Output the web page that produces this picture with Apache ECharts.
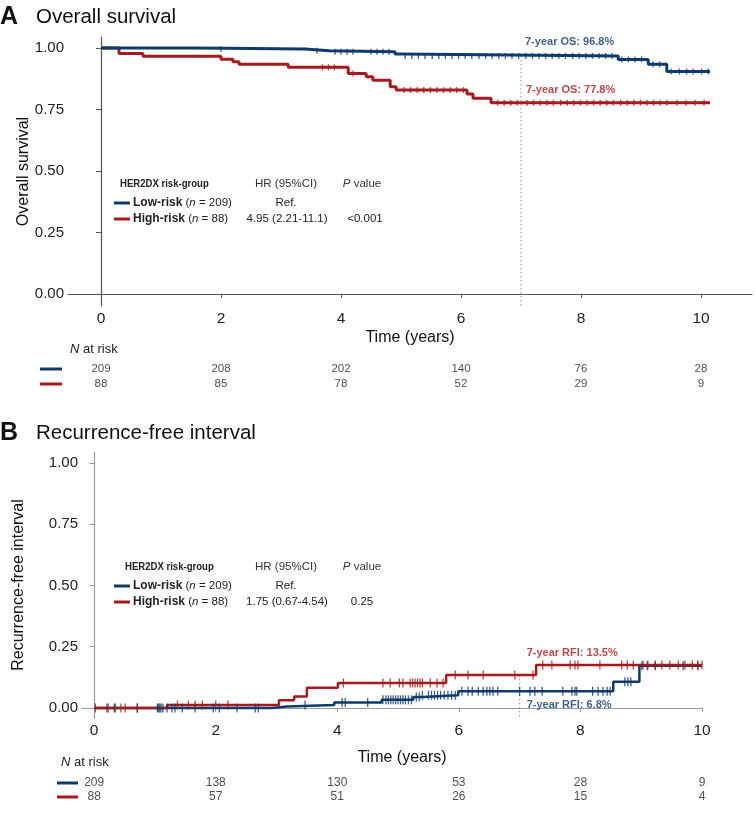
<!DOCTYPE html>
<html><head><meta charset="utf-8">
<script src="https://cdn.jsdelivr.net/npm/echarts@6/dist/echarts.min.js"></script>
<style>html,body{margin:0;padding:0;background:#fff}#c{width:755px;height:817px}</style>
</head><body><div id="c"></div>
<script>
// ---------- data ----------
const timeTicks = [0, 2, 4, 6, 8, 10];
const survTicks = [0, 0.25, 0.5, 0.75, 1];

// Overall survival (Kaplan-Meier steps)
const osLowT  = [0, 1.6, 3.4, 3.8, 4.9, 5.0, 8.62, 9.12, 9.43, 10.15];
const osLowS  = [1.0, 0.996, 0.989, 0.985, 0.976, 0.968, 0.954, 0.934, 0.905, 0.905];
const osHighT = [0, 0.3, 0.7, 2.0, 2.2, 2.3, 3.12, 4.12, 4.42, 4.53, 4.82, 4.92, 6.1, 6.2, 6.5, 10.15];
const osHighS = [1.0, 0.978, 0.967, 0.955, 0.944, 0.934, 0.922, 0.897, 0.883, 0.869, 0.843, 0.829, 0.813, 0.796, 0.778, 0.778];
const osLowCens = [2.0, 3.6, 3.9, 4.0, 4.1, 4.2, 4.5, 4.6, 4.7, 4.8, 5.07, 5.18, 5.29, 5.40, 5.52, 5.63, 5.74, 5.85, 5.96, 6.07, 6.18, 6.30, 6.41, 6.52, 6.63, 6.74, 6.85, 6.96, 7.08, 7.19, 7.30, 7.41, 7.52, 7.63, 7.74, 7.86, 7.97, 8.08, 8.19, 8.30, 8.41, 8.52, 8.68, 8.79, 8.90, 9.01, 9.20, 9.31, 9.50, 9.64, 9.76, 9.87, 10.01, 10.12];
const osHighCens = [3.69, 3.79, 3.89, 4.2, 5.05, 5.16, 5.27, 5.38, 5.49, 5.60, 5.71, 5.82, 5.93, 6.04, 6.61, 6.72, 6.83, 6.94, 7.10, 7.21, 7.32, 7.43, 7.54, 7.66, 7.77, 7.88, 7.99, 8.10, 8.21, 8.32, 8.43, 8.54, 8.66, 8.77, 8.88, 8.99, 9.10, 9.21, 9.32, 9.43, 9.60, 9.75, 9.90, 10.05];
const osLandmark = 7, osLowAt7 = 0.968, osHighAt7 = 0.778;
const osRiskLow  = [209, 208, 202, 140, 76, 28];
const osRiskHigh = [88, 85, 78, 52, 29, 9];

// Recurrence-free interval (cumulative incidence steps)
const rfiHighT = [0, 1.2, 3.04, 3.29, 3.5, 4.01, 5.79, 7.27, 10.0];
const rfiHighV = [0, 0.012, 0.031, 0.047, 0.082, 0.102, 0.135, 0.175, 0.175];
const rfiLowT  = [0, 2.93, 3.17, 3.95, 4.73, 5.25, 5.4, 5.99, 8.54, 8.97, 10.0];
const rfiLowV  = [0, 0.006, 0.012, 0.022, 0.033, 0.045, 0.052, 0.068, 0.107, 0.172, 0.172];
const rfiHighCens = [0.02, 0.23, 0.35, 0.44, 0.51, 0.71, 1.37, 1.55, 1.66, 1.78, 2.0, 2.2, 4.1, 4.75, 4.87, 5.02, 5.08, 5.2, 5.24, 5.28, 5.32, 5.36, 5.4, 5.53, 5.64, 5.74, 5.94, 6.15, 6.4, 6.92, 7.22, 7.38, 7.53, 7.83, 7.91, 7.96, 8.32, 8.68, 8.77, 8.87, 9.03, 9.11, 9.23, 9.34, 9.47, 9.61, 9.72, 9.84, 9.93, 10.0];
const rfiLowCens = [0.21, 0.33, 0.71, 1.04, 1.06, 1.08, 1.1, 1.13, 1.2, 1.28, 1.33, 1.45, 1.66, 1.96, 2.06, 2.35, 2.65, 2.7, 3.47, 4.08, 4.13, 4.5, 4.75, 4.8, 4.84, 4.88, 4.92, 4.96, 5.0, 5.04, 5.08, 5.12, 5.17, 5.22, 5.3, 5.35, 5.4, 5.5, 5.55, 5.6, 5.65, 5.7, 5.76, 5.82, 5.88, 5.94, 6.05, 6.15, 6.22, 6.32, 6.4, 6.46, 6.51, 6.56, 6.64, 7.0, 7.17, 7.25, 7.37, 7.71, 7.86, 7.91, 7.94, 8.2, 8.29, 8.37, 8.44, 8.49, 8.73, 8.78, 8.83, 9.01, 9.1, 9.23, 9.69, 9.93];
const rfiLandmark = 7, rfiHighAt7 = 0.135, rfiLowAt7 = 0.068;
const rfiRiskLow  = [209, 138, 130, 53, 28, 9];
const rfiRiskHigh = [88, 57, 51, 26, 15, 4];

// ---------- styling ----------
const BLUE = '#0e3a6c', RED = '#a51b1d';
const FONT = 'Liberation Sans, Arial, Helvetica, sans-serif';

function stepAt(T, S, t) { let v = S[0]; for (let i = 0; i < T.length; i++) { if (T[i] <= t) v = S[i]; } return v; }
function pairs(T, S) { return T.map((t, i) => [t, S[i]]); }
function cens(T, S, C) { return C.map(t => [t, stepAt(T, S, t)]); }

function kmLine(xi, T, S, color, w) {
  return { type: 'line', xAxisIndex: xi, yAxisIndex: xi, step: 'end', showSymbol: false, data: pairs(T, S),
    lineStyle: { color: color, width: w }, itemStyle: { color: color }, z: 3, silent: true };
}
function censSeries(xi, T, S, C, color, h) {
  return { type: 'scatter', xAxisIndex: xi, yAxisIndex: xi, symbol: 'rect', symbolSize: [1.3, h], data: cens(T, S, C),
    itemStyle: { color: color }, z: 4, silent: true };
}
function riskSeries(xi, vals, row, fsize) {
  return { type: 'scatter', xAxisIndex: xi, yAxisIndex: xi, symbolSize: 0,
    data: timeTicks.map((t, i) => [t, row, vals[i]]),
    label: { show: true, position: 'inside', formatter: p => String(p.data[2]), fontSize: fsize, fontFamily: FONT, color: '#222' }, silent: true };
}
function noteSeries(xi, x, y, text, color, dist, dy) {
  return { type: 'scatter', xAxisIndex: xi, yAxisIndex: xi, symbolSize: 0, data: [[x, y]], z: 5, silent: true,
    label: { show: true, position: 'right', distance: dist, offset: [0, dy], formatter: text, color: color,
      fontWeight: 'bold', fontSize: 11, fontFamily: FONT } };
}
function dotted(xi, x, yTop, yBot) {
  return { type: 'line', xAxisIndex: xi, yAxisIndex: xi, showSymbol: false, data: [[x, yTop], [x, yBot]],
    lineStyle: { color: '#8a8a8a', width: 1, type: [1.5, 2.5] }, z: 2, silent: true };
}

function mainX(grid, min, max, axisColor, gap, pad) {
  return { gridIndex: grid, type: 'value', min: min, max: max,
    axisLine: { show: true, lineStyle: { color: axisColor, width: 1.2 } },
    axisTick: { show: true, customValues: timeTicks, length: 4, lineStyle: { color: axisColor } },
    axisLabel: { customValues: timeTicks, fontSize: 15.5, color: '#222', margin: 5, fontFamily: FONT },
    splitLine: { show: false },
    name: 'Time (years)', nameLocation: 'middle', nameGap: gap, nameMoveOverlap: false,
    nameTextStyle: { fontSize: 16, color: '#111', fontFamily: FONT, padding: pad } };
}
function mainY(grid, min, max, axisColor, name, gap) {
  return { gridIndex: grid, type: 'value', min: min, max: max,
    axisLine: { show: true, lineStyle: { color: axisColor, width: 1.2 } },
    axisTick: { show: true, customValues: survTicks, length: 5, lineStyle: { color: axisColor } },
    axisLabel: { customValues: survTicks, formatter: v => v.toFixed(2), fontSize: 15, color: '#222', margin: 4, fontFamily: FONT },
    splitLine: { show: false },
    name: name, nameLocation: 'middle', nameGap: gap, nameMoveOverlap: false,
    nameTextStyle: { fontSize: 16, color: '#111', fontFamily: FONT } };
}
function hiddenX(grid, min, max) { return { gridIndex: grid, type: 'value', min: min, max: max, show: false }; }
function hiddenY(grid) { return { gridIndex: grid, type: 'category', data: ['high', 'low'], show: false }; }

// ---------- legend-table graphics ----------
function txt(x, y, text, opts, extra) {
  return Object.assign({ type: 'text', x: x, y: y, silent: true,
    style: Object.assign({ text: text, fill: '#222', font: '11.5px ' + FONT, textVerticalAlign: 'middle', textAlign: 'left' }, opts || {}) }, extra || {});
}
function key(x1, x2, y, color) {
  return { type: 'line', silent: true, shape: { x1: x1, y1: y, x2: x2, y2: y }, style: { stroke: color, lineWidth: 3 } };
}
const rich = { b: { fontWeight: 'bold', fontSize: 12, fontFamily: FONT }, i: { fontStyle: 'italic', fontSize: 11.5, fontFamily: FONT }, r: { fontSize: 11.5, fontFamily: FONT } };
function riskInset(hx, y0, hr, pv, pvx) {
  return [
    txt(hx, y0, 'HER2DX risk-group', { font: 'bold 11px ' + FONT }, { scaleX: 0.87 }),
    txt(286, y0, 'HR (95%CI)', { textAlign: 'center', fill: '#333' }),
    txt(362, y0, '{i|P}{r| value}', { textAlign: 'center', rich: rich, fill: '#333' }),
    key(114, 130, y0 + 19, BLUE),
    txt(133, y0 + 19, '{b|Low-risk}{r| (}{i|n}{r| = 209)}', { rich: rich }),
    txt(286, y0 + 19, 'Ref.', { textAlign: 'center' }),
    key(114, 130, y0 + 35, RED),
    txt(133, y0 + 35, '{b|High-risk}{r| (}{i|n}{r| = 88)}', { rich: rich }),
    txt(287, y0 + 35, hr, { textAlign: 'center' }),
    txt(pvx, y0 + 35, pv, { textAlign: 'center' })
  ];
}

const graphics = [].concat(
  [txt(0, 17, 'A', { font: 'bold 25px ' + FONT, fill: '#111' }),
   txt(36, 17, 'Overall survival', { font: '20.5px ' + FONT, fill: '#111' }),
   txt(0, 433, 'B', { font: 'bold 25px ' + FONT, fill: '#111' }),
   txt(36, 433, 'Recurrence-free interval', { font: '20.5px ' + FONT, fill: '#111' }),
   txt(70, 349, '{i|N}{r| at risk}', { rich: { i: { fontStyle: 'italic', fontSize: 13, fontFamily: FONT }, r: { fontSize: 13, fontFamily: FONT } } }),
   txt(61, 762, '{i|N}{r| at risk}', { rich: { i: { fontStyle: 'italic', fontSize: 13, fontFamily: FONT }, r: { fontSize: 13, fontFamily: FONT } } }),
   key(40, 62, 369, BLUE), key(40, 62, 384, RED),
   key(57, 78, 783, BLUE), key(57, 78, 797, RED)],
  riskInset(120, 184, '4.95 (2.21-11.1)', '<0.001', 365),
  riskInset(125, 567, '1.75 (0.67-4.54)', '0.25', 362)
);

const option = {
  animation: false,
  backgroundColor: '#fff',
  textStyle: { fontFamily: FONT },
  grid: [
    { left: 68, top: 37, width: 684, height: 269 },
    { left: 68, top: 361, width: 684, height: 30 },
    { left: 82, top: 452, width: 620, height: 266 },
    { left: 82, top: 776, width: 620, height: 28 }
  ],
  xAxis: [
    mainX(0, -0.55, 10.85, '#555', 24, [0, 0, 0, 0]),
    hiddenX(1, -0.55, 10.85),
    mainX(2, -0.2, 10, '#9a9a9a', 32, [0, 0, 0, 20]),
    hiddenX(3, -0.2, 10)
  ],
  yAxis: [
    mainY(0, -0.049, 1.045, '#555', 'Overall survival', 36),
    hiddenY(1),
    mainY(2, -0.041, 1.045, '#9a9a9a', 'Recurrence-free interval', 55),
    hiddenY(3)
  ],
  graphic: graphics,
  series: [
    dotted(0, osLandmark, osLowAt7, -0.049),
    kmLine(0, osHighT, osHighS, RED, 3),
    kmLine(0, osLowT, osLowS, BLUE, 3),
    censSeries(0, osHighT, osHighS, osHighCens, RED, 6),
    censSeries(0, osLowT, osLowS, osLowCens, BLUE, 6),
    noteSeries(0, osLandmark, osLowAt7, '7-year OS: 96.8%', BLUE, 4, -14),
    noteSeries(0, osLandmark, osHighAt7, '7-year OS: 77.8%', RED, 5, -13),
    riskSeries(1, osRiskLow, 'low', 11.5),
    riskSeries(1, osRiskHigh, 'high', 11.5),

    dotted(2, rfiLandmark, rfiHighAt7, -0.041),
    kmLine(2, rfiLowT, rfiLowV, BLUE, 2.5),
    kmLine(2, rfiHighT, rfiHighV, RED, 2.5),
    censSeries(2, rfiLowT, rfiLowV, rfiLowCens, BLUE, 9),
    censSeries(2, rfiHighT, rfiHighV, rfiHighCens, RED, 9),
    noteSeries(2, rfiLandmark, rfiHighAt7, '7-year RFI: 13.5%', RED, 7, -22),
    noteSeries(2, rfiLandmark, rfiLowAt7, '7-year RFI: 6.8%', BLUE, 7, 14),
    riskSeries(3, rfiRiskLow, 'low', 12),
    riskSeries(3, rfiRiskHigh, 'high', 12)
  ]
};
echarts.init(document.getElementById('c'), null, { renderer: 'canvas' }).setOption(option);
</script></body></html>
